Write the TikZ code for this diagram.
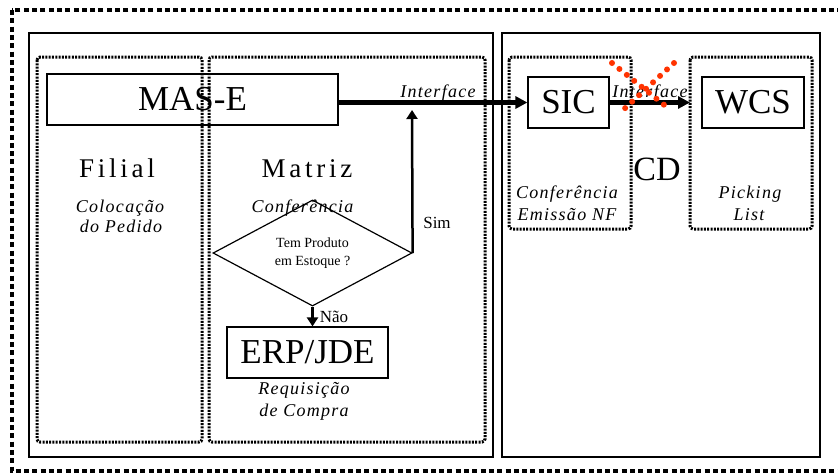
\documentclass[tikz,border=0pt]{standalone}
\usepackage{fontspec}
\setmainfont{Liberation Serif}
\newfontfamily\wideserif{Liberation Serif}[LetterSpace=14]
\newfontfamily\labelserif{Liberation Serif}[LetterSpace=7]
\usetikzlibrary{arrows.meta,shapes.geometric}
\definecolor{crossred}{RGB}{255,51,0}

\begin{document}
\begin{tikzpicture}[x=1pt,y=-1pt,
  panel/.style={draw,line width=1.4pt},
  area/.style={draw,line width=3pt,dash pattern=on 2pt off 1.3pt,rounded corners=3pt},
  system/.style={draw,line width=1.2pt,inner sep=0pt,minimum height=51pt,
    font=\fontsize{35}{40}\selectfont},
  unit/.style={anchor=base,font=\wideserif\fontsize{27}{30}\selectfont},
  task/.style={anchor=base,font=\labelserif\itshape\fontsize{18}{20}\selectfont},
  answer/.style={anchor=base,font=\fontsize{17}{20}\selectfont},
  bigflow/.style={line width=5pt,-{Triangle[length=12pt,width=12pt]}},
  flow/.style={line width=2.5pt,-{Triangle[length=9pt,width=11pt]}},
  crossdots/.style={crossred,line width=6pt,line cap=round,dash pattern=on 0pt off 9.5pt}]

  \useasboundingbox (0,0) rectangle (838,475);
  \clip (0,0) rectangle (838,475);

  % frames
  \draw[line width=4.5pt,dash pattern=on 5pt off 3.3pt] (12,10) rectangle (850,471);
  \draw[panel] (29,33) rectangle (493,457);
  \draw[panel] (502,33) rectangle (820,457);

  \draw[area] (37,57) rectangle (202,442);
  \draw[area] (209,57) rectangle (485,442);
  \draw[area] (509,57) rectangle (631,229);
  \draw[area] (690,57) rectangle (812,229);

  % systems
  \node[system,minimum width=291pt] (mase) at (192.5,99.5) {MAS-E};
  \node[system,minimum width=81pt] (sic) at (568.5,102.5) {SIC};
  \node[system,minimum width=102pt] (wcs) at (753,102.5) {WCS};
  \node[system,minimum width=161pt] (erp) at (307.5,352.5) {ERP/JDE};

  \node[draw,diamond,line width=1.2pt,minimum width=199pt,minimum height=78pt,
    inner sep=0pt,align=center,font=\fontsize{14}{18}\selectfont]
    (estoque) at (312.5,253) {Tem Produto\\em Estoque ?};

  % units
  \node[unit] (filial) at (117,177) {Filial};
  \node[unit] (matriz) at (307,177) {Matriz};
  \node[anchor=base,font=\fontsize{34}{38}\selectfont] (cd) at (657,180) {CD};

  % tasks
  \node[task] (coloc1) at (120,212) {Colocação};
  \node[task] (coloc2) at (121,232) {do Pedido};
  \node[task] (conf) at (302.5,212) {Conferência};
  \node[task] (req1) at (304,394) {Requisição};
  \node[task] (req2) at (304,416) {de Compra};
  \node[task] (sicconf) at (567,198) {Conferência};
  \node[task] (sicnf) at (567,220) {Emissão NF};
  \node[task] (pick1) at (750,198) {Picking};
  \node[task] (pick2) at (749,220) {List};
  \node[task] (iface1) at (438,97) {Interface};
  \node[task] (iface2) at (650,97) {Interface};

  \node[answer] (sim) at (437,228) {Sim};
  \node[answer] (nao) at (334,322) {Não};

  % connectors
  \coordinate (simtip) at (412,110);
  \coordinate (wcsin) at (690,102.5);

  \draw[bigflow] (mase.east |- sic.west) -- (sic.west);
  \draw[bigflow] (sic.east) -- (wcsin);
  \draw[flow] (estoque.east) -- (simtip);
  \draw[flow] (estoque.south) -- (estoque.south |- erp.north);

  % interface out of use
  \draw[crossdots] (612,63) -- (668,108);
  \draw[crossdots] (674,63) -- (622,111);
\end{tikzpicture}
\end{document}
